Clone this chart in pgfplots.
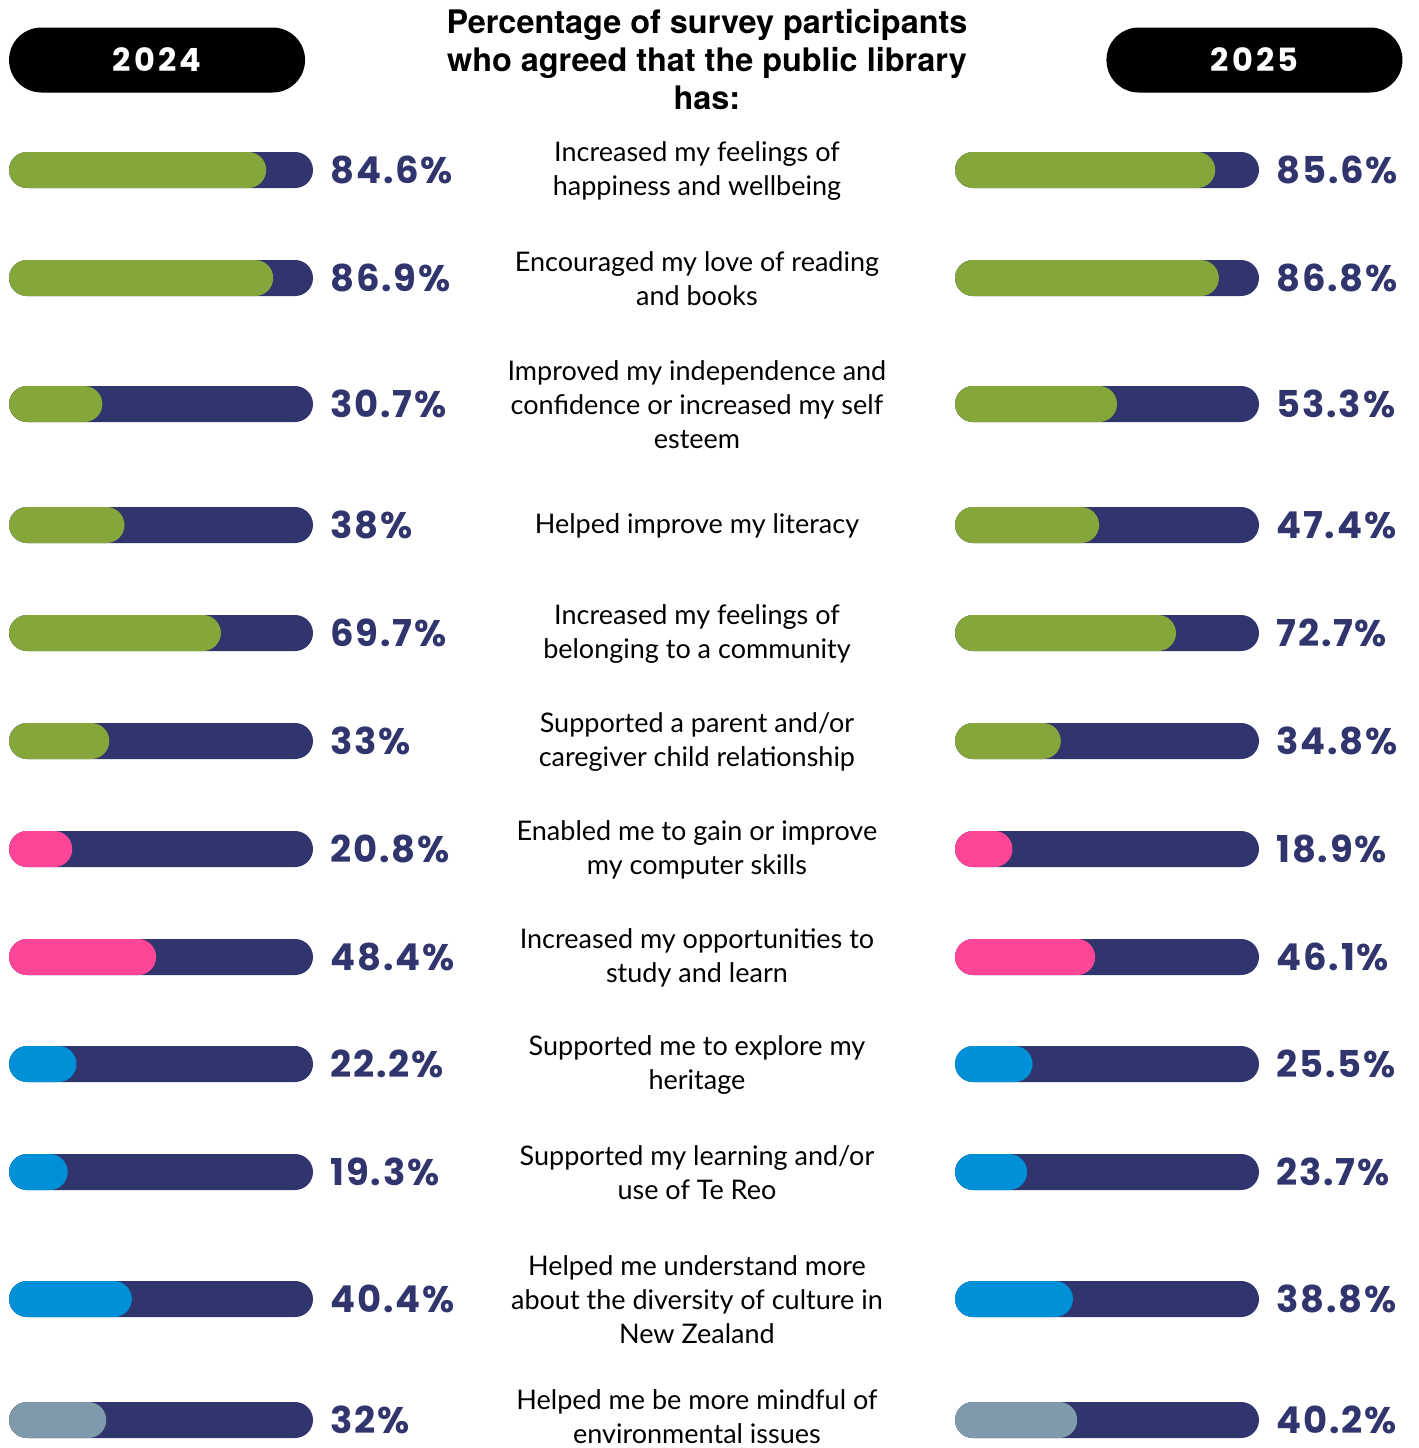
\documentclass[border=0pt]{standalone}
\usepackage{pgfplots}
\pgfplotsset{compat=1.18}
\usepackage{fontspec}
\setmainfont{Lato}
\newfontfamily\numfont{Poppins}[LetterSpace=5]
\newfontfamily\yearfont{Poppins}[LetterSpace=10]
\newfontfamily\titlefont{TeX Gyre Heros}

\definecolor{navy}{HTML}{31356E}
\definecolor{cgreen}{HTML}{84A63A}
\definecolor{cpink}{HTML}{FF4596}
\definecolor{cblue}{HTML}{0090D7}
\definecolor{cgrey}{HTML}{7F9AAB}

% one pixel of the reference = 0.5pt
\pgfplotsset{
  panel/.style={
    scale only axis, width=152pt, height=724pt,
    xmin=0, xmax=100, ymin=0, ymax=1448, y dir=reverse,
    hide axis, clip=false, anchor=south west,
  },
  pill/.style={xbar, bar shift=0pt, bar width=18pt, draw=none, rounded corners=8.99pt},
}
\tikzset{
  val/.style={anchor=west, inner sep=0pt, text=navy, font=\numfont\bfseries\fontsize{18.5}{18.5}\selectfont},
  lab/.style={align=center, font=\fontsize{13.5}{17}\selectfont},
  year/.style={fill=black, rounded corners=16.2pt, minimum width=148pt, minimum height=32.5pt,
    inner sep=0pt, text=white, font=\yearfont\bfseries\fontsize{16}{16}\selectfont},
}

\begin{document}
\begin{tikzpicture}
\path[use as bounding box] (0,0) rectangle (709.5pt,724pt);

% ---- 2024 ----
\begin{axis}[panel, at={(4.5pt,0pt)}]
\addplot[pill, fill=navy] coordinates {
  (100,170) (100,278) (100,404) (100,525) (100,633) (100,741)
  (100,849) (100,957) (100,1064) (100,1172) (100,1299) (100,1420)};
\addplot[pill, fill=cgreen] coordinates {
  (84.6,170) (86.9,278) (30.7,404) (38.0,525) (69.7,633) (33.0,741)};
\addplot[pill, fill=cpink] coordinates {(20.8,849) (48.4,957)};
\addplot[pill, fill=cblue] coordinates {(22.2,1064) (19.3,1172) (40.4,1299)};
\addplot[pill, fill=cgrey] coordinates {(32.0,1420)};

\node[val] at (axis cs:105.6,170) {84.6\%};
\node[val] at (axis cs:105.6,278) {86.9\%};
\node[val] at (axis cs:105.6,404) {30.7\%};
\node[val] at (axis cs:105.6,525) {38\%};
\node[val] at (axis cs:105.6,633) {69.7\%};
\node[val] at (axis cs:105.6,741) {33\%};
\node[val] at (axis cs:105.6,849) {20.8\%};
\node[val] at (axis cs:105.6,957) {48.4\%};
\node[val] at (axis cs:105.6,1064) {22.2\%};
\node[val] at (axis cs:105.6,1172) {19.3\%};
\node[val] at (axis cs:105.6,1299) {40.4\%};
\node[val] at (axis cs:105.6,1420) {32\%};

\node[year] at (axis cs:48.7,60) {2024};

% title and row labels (centre column)
\node[align=center, font=\titlefont\bfseries\fontsize{16.2}{19}\selectfont]
  at (axis cs:229.6,60) {Percentage of survey participants\\who agreed that the public library\\has:};
\node[lab] at (axis cs:226.3,171) {Increased my feelings of\\happiness and wellbeing};
\node[lab] at (axis cs:226.3,279) {Encouraged my love of reading\\and books};
\node[lab] at (axis cs:226.3,405) {Improved my independence and\\confidence or increased my self\\esteem};
\node[lab] at (axis cs:226.3,526) {Helped improve my literacy};
\node[lab] at (axis cs:226.3,634) {Increased my feelings of\\belonging to a community};
\node[lab] at (axis cs:226.3,742) {Supported a parent and/or\\caregiver child relationship};
\node[lab] at (axis cs:226.3,850) {Enabled me to gain or improve\\my computer skills};
\node[lab] at (axis cs:226.3,958) {Increased my opportunities to\\study and learn};
\node[lab] at (axis cs:226.3,1065) {Supported me to explore my\\heritage};
\node[lab] at (axis cs:226.3,1173) {Supported my learning and/or\\use of Te Reo};
\node[lab] at (axis cs:226.3,1300) {Helped me understand more\\about the diversity of culture in\\New Zealand};
\node[lab] at (axis cs:226.3,1417) {Helped me be more mindful of\\environmental issues};
\end{axis}

% ---- 2025 ----
\begin{axis}[panel, at={(477.5pt,0pt)}]
\addplot[pill, fill=navy] coordinates {
  (100,170) (100,278) (100,404) (100,525) (100,633) (100,741)
  (100,849) (100,957) (100,1064) (100,1172) (100,1299) (100,1420)};
\addplot[pill, fill=cgreen] coordinates {
  (85.6,170) (86.8,278) (53.3,404) (47.4,525) (72.7,633) (34.8,741)};
\addplot[pill, fill=cpink] coordinates {(18.9,849) (46.1,957)};
\addplot[pill, fill=cblue] coordinates {(25.5,1064) (23.7,1172) (38.8,1299)};
\addplot[pill, fill=cgrey] coordinates {(40.2,1420)};

\node[val] at (axis cs:105.6,170) {85.6\%};
\node[val] at (axis cs:105.6,278) {86.8\%};
\node[val] at (axis cs:105.6,404) {53.3\%};
\node[val] at (axis cs:105.6,525) {47.4\%};
\node[val] at (axis cs:105.6,633) {72.7\%};
\node[val] at (axis cs:105.6,741) {34.8\%};
\node[val] at (axis cs:105.6,849) {18.9\%};
\node[val] at (axis cs:105.6,957) {46.1\%};
\node[val] at (axis cs:105.6,1064) {25.5\%};
\node[val] at (axis cs:105.6,1172) {23.7\%};
\node[val] at (axis cs:105.6,1299) {38.8\%};
\node[val] at (axis cs:105.6,1420) {40.2\%};

\node[year] at (axis cs:98.5,60) {2025};
\end{axis}
\end{tikzpicture}
\end{document}
